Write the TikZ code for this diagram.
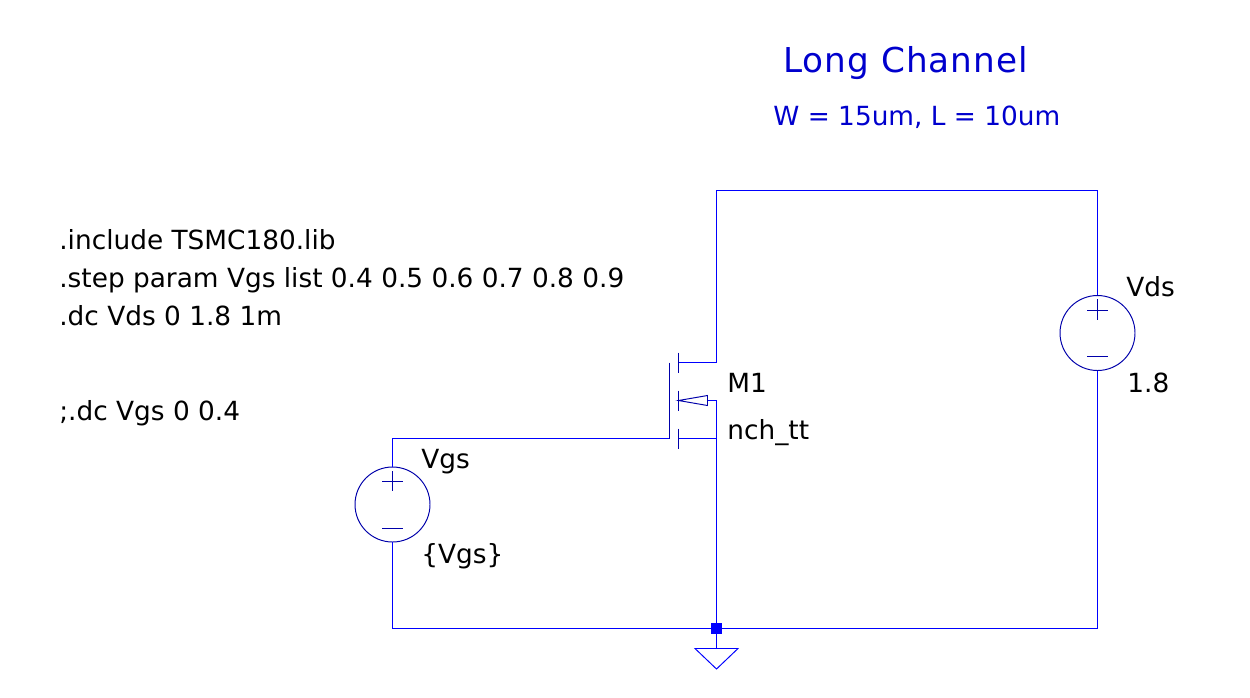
\documentclass[tikz,border=0pt]{standalone}
\usepackage{fontspec}
\setmainfont{DejaVu Sans}
\definecolor{wireblue}{RGB}{0,0,255}
\definecolor{partblue}{RGB}{0,0,170}
\definecolor{noteblue}{RGB}{0,0,205}
\tikzset{
	wire/.style={draw=wireblue, line width=0.55pt},
	part/.style={draw=partblue, line width=0.55pt},
	source/.style={part, circle, minimum size=1.5cm, inner sep=0pt},
	label/.style={anchor=base west, inner sep=0pt, font=\fontsize{15}{18}\selectfont},
	note/.style={label, text=noteblue}
}

\begin{document}
\begin{tikzpicture}[x=0.02cm, y=-0.02cm]
	\useasboundingbox (0, 0) rectangle (1250, 697);
	% sources
	\node[source] (Vgs)at(392.5, 504.5) {};
	\node[source] (Vds)at(1097.5, 333) {};
	% transistor pins
	\coordinate (gate)at(669.5, 438.5);
	\coordinate (gateTop)at(669.5, 362.5);
	\coordinate (drain)at(678.5, 362.5);
	\coordinate (bulk)at(678.5, 400.5);
	\coordinate (source)at(678.5, 438.5);
	\coordinate (base)at(707.5, 400.5);
	\coordinate (drainR)at(716.5, 362.5);
	\coordinate (bulkR)at(716.5, 400.5);
	\coordinate (sourceR)at(716.5, 438.5);
	\coordinate (topL)at(716.5, 190.5);
	\coordinate (topR)at(1097.5, 190.5);
	\coordinate (botL)at(392.5, 628.5);
	\coordinate (botR)at(1097.5, 628.5);
	\node[fill=wireblue, minimum size=0.22cm, inner sep=0pt] (dot)at(716.5, 628.5) {};
	% ground
	\coordinate (gnd)at(716.5, 648.5);
	\coordinate (gndL)at(695, 648.5);
	\coordinate (gndR)at(738, 648.5);
	\coordinate (gndT)at(716.5, 669);
	\draw[wire] (gndL) -- (gndR) -- (gndT) -- cycle;
	% wires
	\draw[wire] (Vgs.north) |- (gate);
	\draw[wire] (Vgs.south) -- (botL) -- (botR) -- (Vds.south);
	\draw[wire] (Vds.north) -- (topR) -- (topL) -- (drainR) -- (drain);
	\draw[wire] (base) -- (bulkR) -- (dot.center);
	\draw[wire] (source) -- (sourceR);
	\draw[wire] (dot) -- (gnd);
	% transistor
	\draw[part] (gateTop) -- (gate);
	\foreach \y in {362.5, 400.5, 438.5}
		\draw[part] (678.5, \y-10) -- (678.5, \y+10);
	\draw[part] (bulk) -- (707.5, 395.5) -- (707.5, 405.5) -- cycle;
	% plus and minus
	\draw[part] (382, 481.5) -- (403, 481.5) (392.5, 471) -- (392.5, 491);
	\draw[part] (382, 528.5) -- (403, 528.5);
	\draw[part] (1087, 310.5) -- (1108, 310.5) (1097.5, 299) -- (1097.5, 320);
	\draw[part] (1087, 356.5) -- (1108, 356.5);
	% texts
	\node[note, font=\fontsize{19.5}{23}\selectfont\addfontfeature{LetterSpace=2.9}] (title)at(783, 72) {Long Channel};
	\node[note] (size)at(773, 125) {W = 15um, L = 10um};
	\node[label] (inc)at(59, 249) {.include TSMC180.lib};
	\node[label] (step)at(59, 287) {.step param Vgs list 0.4 0.5 0.6 0.7 0.8 0.9};
	\node[label] (dc)at(59, 325) {.dc Vds 0 1.8 1m};
	\node[label] (dcb)at(59, 420) {;.dc Vgs 0 0.4};
	\node[label] (nameM)at(727, 392) {M1};
	\node[label] (model)at(727, 439) {nch\_tt};
	\node[label] (nameVds)at(1126, 296) {Vds};
	\node[label] (valVds)at(1127, 392) {1.8};
	\node[label] (nameVgs)at(421, 468) {Vgs};
	\node[label] (valVgs)at(421, 563) {\{Vgs\}};
\end{tikzpicture}
\end{document}
